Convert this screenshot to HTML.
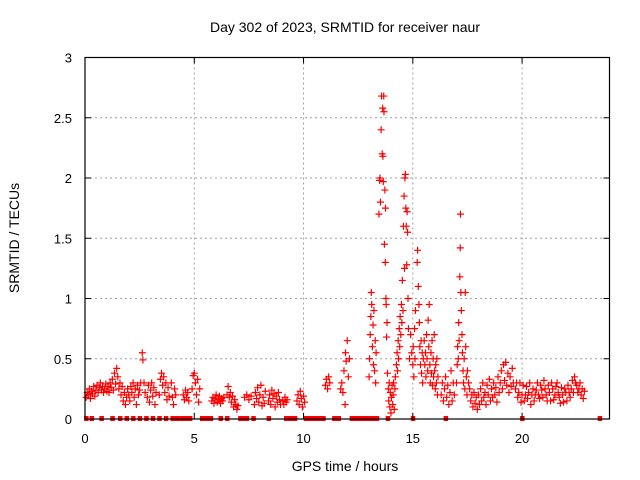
<!DOCTYPE html>
<html><head><meta charset="utf-8"><style>
html,body{margin:0;padding:0;background:#fff;}
svg{display:block;font-family:"Liberation Sans",sans-serif;}
</style></head><body>
<svg id="chart" width="640" height="480" viewBox="0 0 640 480" xmlns="http://www.w3.org/2000/svg">
<text x="345" y="32" font-size="14" text-anchor="middle">Day 302 of 2023, SRMTID for receiver naur</text>
<text x="19" y="238" font-size="14" text-anchor="middle" transform="rotate(-90 19 238)">SRMTID / TECUs</text>
<text x="345" y="471" font-size="14" text-anchor="middle">GPS time / hours</text>
<g id="grid"></g>
<g id="marks"></g>
<g id="axes"></g>
</svg>
<script>
const xTicks=[0,5,10,15,20];
const yTicks=[0,0.5,1,1.5,2,2.5,3];
const yTickLabels=["0","0.5","1","1.5","2","2.5","3"];
const samples=[[0.05,.18],[0.1,.22],[0.15,.2],[0.2,.25],[0.25,.17],[0.3,.23],[0.35,.21],[0.4,.27],[0.45,.19],[0.5,.24],[0.55,.28],[0.6,.22],[0.65,.26],[0.7,.3],[0.75,.24],[0.8,.27],[0.85,.22],[0.9,.25],[0.95,.29],[1.0,.23],
[1.05,.27],[1.1,.22],[1.15,.3],[1.2,.26],[1.25,.33],[1.3,.24],[1.35,.38],[1.4,.29],[1.45,.42],[1.5,.35],[1.55,.25],[1.6,.3],[1.65,.2],[1.7,.27],[1.75,.15],[1.8,.22],[1.85,.12],[1.9,.18],[1.95,.25],[2.0,.2],
[2.05,.15],[2.1,.27],[2.15,.22],[2.2,.3],[2.25,.18],[2.3,.25],[2.35,.12],[2.4,.28],[2.45,.2],[2.5,.24],[2.55,.3],[2.62,.55],[2.65,.49],[2.7,.3],[2.75,.22],
[2.85,.18],[2.9,.28],[2.95,.14],[3.0,.24],[3.05,.3],[3.1,.19],[3.15,.26],[3.2,.12],[3.25,.22],
[3.4,.2],[3.45,.33],[3.5,.38],[3.55,.28],[3.6,.35],[3.65,.22],[3.7,.3],[3.75,.16],[3.8,.26],[3.85,.19],
[3.95,.3],[4.0,.18],[4.05,.12],[4.1,.25],[4.15,.2],[4.5,.2],[4.55,.16],[4.6,.24],[4.65,.18],[4.7,.22],[4.75,.15],
[4.9,.25],[4.95,.36],[5.0,.38],[5.05,.3],[5.1,.2],[5.15,.33],[5.2,.14],[5.25,.25],
[5.8,.15],[5.85,.18],[5.9,.13],[5.95,.17],[6.0,.2],[6.05,.14],[6.1,.16],[6.15,.19],[6.2,.13],[6.25,.17],[6.3,.15],[6.35,.18],
[6.5,.2],[6.55,.27],[6.6,.18],[6.65,.22],[6.7,.14],[6.75,.19],[6.8,.1],[6.85,.16],[6.9,.12],[6.95,.08],[7.0,.11],
[7.3,.18],[7.4,.2],[7.5,.16],[7.6,.19],
[7.75,.12],[7.8,.22],[7.85,.17],[7.9,.26],[7.95,.14],[8.0,.2],[8.05,.28],[8.1,.11],[8.15,.18],[8.2,.13],[8.25,.23],
[8.4,.15],[8.45,.2],[8.5,.12],[8.55,.24],[8.6,.17],[8.65,.21],[8.7,.1],[8.75,.19],[8.8,.14],[8.85,.22],[8.9,.16],[8.95,.12],
[9.05,.15],[9.1,.12],[9.15,.18],[9.2,.14],[9.25,.16],
[9.7,.15],[9.75,.2],[9.8,.12],[9.85,.23],[9.9,.17],[9.95,.1],[10.0,.19],[10.05,.14],
[11.0,.28],[11.05,.33],[11.1,.25],[11.15,.35],[11.2,.3],
[11.7,.25],[11.75,.3],[11.8,.22],[11.85,.4],[11.9,.12],[11.92,.55],[11.95,.48],[12.0,.65],[12.05,.35],[12.1,.5],
[13.0,.35],[13.02,.5],[13.05,.7],[13.08,.85],[13.1,1.05],[13.12,.95],[13.15,.6],[13.18,.78],[13.2,.45],[13.22,.9],[13.25,.4],[13.28,.65],[13.3,.3],[13.32,.55],
[13.45,1.7],[13.48,1.98],[13.5,2.0],[13.52,1.8],[13.55,2.4],[13.57,2.68],[13.6,2.2],[13.62,2.58],[13.63,2.18],[13.65,1.97],[13.67,2.68],[13.68,2.55],[13.7,1.45],[13.72,1.9],[13.74,1.3],[13.75,1.75],[13.77,1.0],[13.78,0.95],[13.8,0.68],[13.82,0.8],[13.84,0.38],
[13.88,.25],[13.9,.15],[13.92,.3],[13.95,.1],[13.97,.22],[14.0,.05],[14.02,.18],[14.05,.28],[14.08,.12],[14.1,.2],[14.12,.3],[14.15,.08],[14.18,.25],[14.2,.35],
[14.25,.45],[14.28,.55],[14.3,.4],[14.33,.65],[14.35,.5],[14.38,.75],[14.4,.6],[14.42,.85],[14.45,.7],[14.48,.95],[14.5,.8],[14.52,1.15],[14.55,.9],[14.57,1.6],[14.6,1.85],[14.62,1.25],[14.64,2.0],[14.66,2.03],[14.68,1.75],[14.7,1.6],[14.72,1.28],[14.74,1.72],[14.76,1.55],[14.78,1.0],[14.8,.75],
[14.85,.5],[14.9,.7],[14.95,.55],[15.0,.45],[15.02,.6],[15.05,.35],[15.08,.75],[15.1,.5],[15.12,.9],
[15.2,1.3],[15.22,1.4],[15.25,1.1],[15.28,.95],[15.3,.8],[15.32,.6],[15.35,.45],[15.38,.65],[15.4,.38],[15.43,.55],[15.45,.3],[15.48,.5],
[15.52,.65],[15.55,.45],[15.58,.55],[15.6,.35],[15.63,.7],[15.65,.5],[15.68,.4],[15.7,.82],[15.73,.6],[15.75,.95],[15.78,.45],[15.8,.3],[15.83,.55],[15.85,.38],[15.88,.65],[15.9,.28],[15.93,.5],[15.95,.35],[15.98,.7],[16.0,.4],[16.03,.25],[16.05,.45],[16.08,.3],[16.1,.5],[16.13,.2],[16.15,.35],
[16.3,.2],[16.35,.3],[16.4,.15],[16.45,.25],[16.5,.35],[16.55,.18],[16.6,.28],[16.65,.12],[16.7,.22],[16.75,.4],[16.8,.15],[16.85,.3],[16.9,.2],
[17.0,.3],[17.03,.45],[17.05,.6],[17.08,.5],[17.1,.8],[17.12,.65],[17.15,1.18],[17.17,1.42],[17.18,1.7],[17.2,1.05],[17.22,.9],[17.25,.7],[17.27,.55],[17.3,.4],[17.32,.3],[17.35,.5],[17.38,.25],[17.4,1.05],[17.42,.6],[17.45,.35],[17.48,.2],[17.5,.4],[17.55,.3],
[17.6,.25],[17.65,.15],[17.7,.2],[17.75,.1],[17.8,.22],[17.85,.13],[17.9,.18],[17.95,.08],[18.0,.2],[18.05,.12],[18.1,.25],[18.15,.15],[18.2,.3],[18.25,.18],[18.3,.22],[18.35,.12],[18.4,.28],[18.45,.2],[18.5,.33],[18.55,.15],[18.6,.25],[18.65,.18],[18.7,.3],[18.75,.2],[18.8,.26],[18.85,.14],[18.9,.35],[18.95,.22],
[19.0,.3],[19.05,.4],[19.1,.25],[19.15,.45],[19.2,.32],[19.25,.47],[19.3,.28],[19.35,.38],[19.4,.22],[19.45,.35],[19.5,.27],[19.55,.42],[19.6,.3],
[19.7,.25],[19.8,.18],[19.9,.3],[20.0,.2],[20.1,.15],[20.2,.27],[20.3,.22],[20.4,.12],[20.5,.25],[20.6,.2],[20.7,.3],[20.8,.17],[20.9,.24],[21.0,.32],[21.1,.2],[21.2,.28],[21.3,.15],[21.4,.25],[21.5,.2],[21.6,.3],[21.7,.18],[21.8,.26],[21.9,.14],[22.0,.22],[22.1,.28],[22.2,.18],[22.3,.32],[22.4,.35],[22.5,.28],[22.6,.25],[22.7,.2],[22.8,.17],[22.85,.23],
[19.75,.3],[19.85,.22],[19.95,.14],[20.05,.28],[20.15,.2],[20.25,.17],[20.35,.3],[20.45,.2],[20.55,.15],[20.65,.24],[20.75,.2],[20.85,.28],[20.95,.18],[21.05,.25],[21.15,.15],[21.25,.22],[21.35,.3],[21.45,.16],[21.55,.27],[21.65,.22],[21.75,.13],[21.85,.2],[21.95,.25],[22.05,.15],[22.15,.22],[22.25,.25],[22.35,.22],[22.45,.3],[22.55,.22],[22.65,.3],[22.75,.25]];
const zeroTimes=[0.05,0.3,0.75,1.25,1.6,1.9,2.2,2.5,2.8,3.1,3.4,3.7,4.0,4.2,4.4,4.6,4.8,5.35,5.45,5.55,5.65,5.75,6.2,6.5,7.1,7.2,7.4,7.7,8.4,9.2,9.3,9.4,9.5,9.6,10.1,10.2,10.3,10.4,10.5,10.6,10.7,10.8,10.9,11.4,11.5,11.6,12.2,12.3,12.4,12.5,12.7,12.8,12.9,13.1,13.2,13.35,13.85,15.0,16.5,20.0,23.55];

const L=85,R=609.5,T=57.5,B=419;
const xMax=24,yMax=3;
const sx=v=>L+(v/xMax)*(R-L);
const sy=v=>B-(v/yMax)*(B-T);
const NS="http://www.w3.org/2000/svg";
function mk(tag,attrs,parent){const e=document.createElementNS(NS,tag);for(const k in attrs)e.setAttribute(k,attrs[k]);parent.appendChild(e);return e;}
const grid=document.getElementById('grid'),axes=document.getElementById('axes'),marks=document.getElementById('marks');

xTicks.forEach(t=>{
  const x=sx(t);
  if(t>0){const g=mk('line',{x1:x,x2:x,y1:T,y2:B,stroke:'#a0a0a0','stroke-dasharray':'2,3','stroke-width':1},grid);
  
  }
  const a=mk('line',{x1:x,x2:x,y1:B,y2:B-6,stroke:'#000'},axes);
  const b=mk('line',{x1:x,x2:x,y1:T,y2:T+6,stroke:'#000'},axes);
  const lb=mk('text',{x:x,y:443,'font-size':13,'text-anchor':'middle'},axes);lb.textContent=String(t);
  
  
});
yTicks.forEach((t,i)=>{
  const y=sy(t);
  if(t>0&&t<yMax){const g=mk('line',{x1:L,x2:R,y1:y,y2:y,stroke:'#a0a0a0','stroke-dasharray':'2,3','stroke-width':1},grid);
  
  }
  const a=mk('line',{x1:L,x2:L+6,y1:y,y2:y,stroke:'#000'},axes);
  const b=mk('line',{x1:R,x2:R-6,y1:y,y2:y,stroke:'#000'},axes);
  const lb=mk('text',{x:72,y:y+5,'font-size':13,'text-anchor':'end'},axes);lb.textContent=yTickLabels[i];
  
  
});
const fr=mk('rect',{x:L,y:T,width:R-L,height:B-T,fill:'none',stroke:'#000','stroke-width':1.2},axes);



let d='';
samples.forEach(p=>{const x=sx(p[0]),y=sy(p[1]);d+=`M${x-3.5},${y}h7M${x},${y-3.5}v7`;});
const pts=mk('path',{d:d,stroke:'#ff0000','stroke-width':1.2,fill:'none'},marks);


zeroTimes.forEach(t=>{
  const r=mk('rect',{x:sx(t)-2,y:B-3,width:4.5,height:5,fill:'#ff0000'},marks);
  
  
});
</script>
</body></html>
